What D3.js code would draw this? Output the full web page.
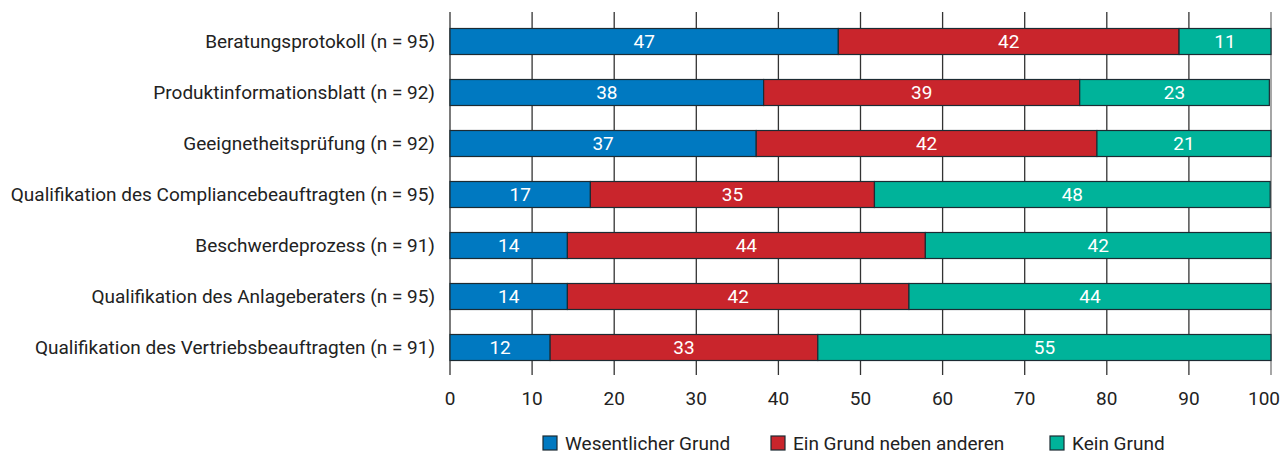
<!DOCTYPE html>
<html><head><meta charset="utf-8">
<script src="https://cdn.jsdelivr.net/npm/d3@7"></script>
<style>body{margin:0;background:#fff}svg{display:block}text{font-family:Roboto,"DejaVu Sans",sans-serif}</style>
</head><body><svg id="c" width="1282" height="456"></svg>
<script>
const categories = [
  "Beratungsprotokoll (n = 95)",
  "Produktinformationsblatt (n = 92)",
  "Geeignetheitsprüfung (n = 92)",
  "Qualifikation des Compliancebeauftragten (n = 95)",
  "Beschwerdeprozess (n = 91)",
  "Qualifikation des Anlageberaters (n = 95)",
  "Qualifikation des Vertriebsbeauftragten (n = 91)"
];
const seriesNames = ["Wesentlicher Grund", "Ein Grund neben anderen", "Kein Grund"];
const wesentlich = [47.3, 38.2, 37.3, 17.1, 14.3, 14.3, 12.2];
const nebenAnderen = [41.5, 38.5, 41.5, 34.6, 43.6, 41.6, 32.6];
const keinGrund = [11.2, 23.1, 21.2, 48.2, 42.1, 44.1, 55.2];
const ticks = [0,10,20,30,40,50,60,70,80,90,100];
const colors = ["#0079c1", "#c9252c", "#00b39a"];

const svg = d3.select("#c");
const x = d3.scaleLinear().domain([0,100]).range([450,1271]);
const y = d3.scaleBand().domain(categories).range([16,373]).paddingInner(0.49).paddingOuter(0.245);

// grid
svg.append("g").selectAll("line").data(ticks).join("line")
  .attr("x1", d=>x(d)).attr("x2", d=>x(d)).attr("y1", 12).attr("y2", 375)
  .attr("stroke", d=> d===100 ? "#777" : "#333").attr("stroke-width", 1.3);

const data = categories.map((c,i)=>({cat:c, vals:[wesentlich[i], nebenAnderen[i], keinGrund[i]]}));
const stacked = d3.stack().keys([0,1,2]).value((d,k)=>d.vals[k])(data);

const g = svg.append("g");
stacked.forEach((layer, k)=>{
  const lg = g.append("g");
  lg.selectAll("rect").data(layer).join("rect")
    .attr("x", d=>x(d[0])).attr("width", d=>x(d[1])-x(d[0]))
    .attr("y", d=>y(d.data.cat)).attr("height", y.bandwidth())
    .attr("fill", colors[k]).attr("stroke", "#1c2b33").attr("stroke-width", 1.2);
  lg.selectAll("text").data(layer).join("text")
    .attr("x", d=>(x(d[0])+x(d[1]))/2).attr("y", d=>y(d.data.cat)+y.bandwidth()/2)
    .attr("dy", "0.36em").attr("text-anchor","middle").attr("fill","#fff")
    .attr("font-size", 19).text(d=>Math.round(d.data.vals[k]));
});

// category labels
svg.append("g").selectAll("text").data(categories).join("text")
  .attr("x", 435).attr("y", d=>y(d)+y.bandwidth()/2).attr("dy","0.36em")
  .attr("text-anchor","end").attr("fill","#222").attr("font-size", 19).text(d=>d);

// x tick labels
svg.append("g").selectAll("text").data(ticks).join("text")
  .attr("x", d=> d===100 ? 1280 : x(d)).attr("y", 398).attr("dy","0.36em")
  .attr("text-anchor", d=> d===100 ? "end" : "middle")
  .attr("fill","#222").attr("font-size", 19).text(d=>d);

// legend
const legX = [543, 771, 1050];
const lgd = svg.append("g");
seriesNames.forEach((n,i)=>{
  lgd.append("rect").attr("x", legX[i]).attr("y", 436).attr("width", 14).attr("height", 14)
    .attr("fill", colors[i]).attr("stroke","#1c2b33").attr("stroke-width",1.2);
  lgd.append("text").attr("x", legX[i]+22).attr("y", 443).attr("dy","0.36em")
    .attr("fill","#222").attr("font-size", 19).text(n);
});
</script></body></html>
